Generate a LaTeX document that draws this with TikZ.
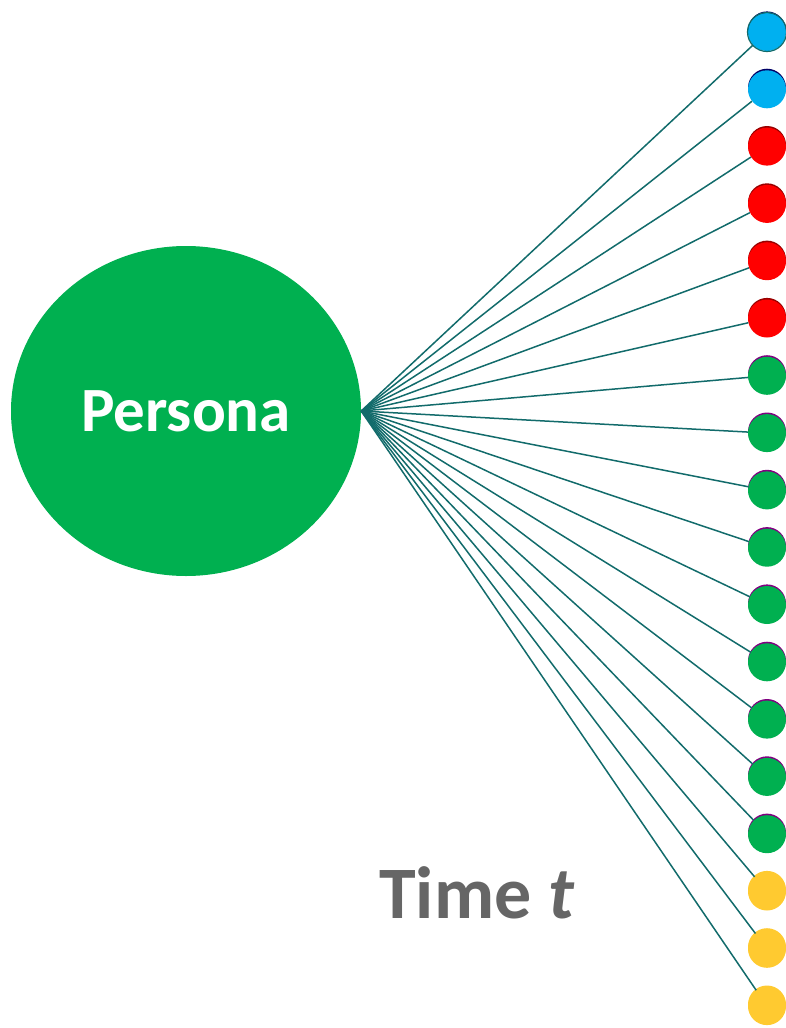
\documentclass[tikz,border=0pt]{standalone}
\usepackage{fontspec}
\setmainfont{Carlito}
\usetikzlibrary{shapes.geometric}

\definecolor{pgreen}{HTML}{00B050}
\definecolor{pblue}{HTML}{00B0F0}
\definecolor{pred}{HTML}{FF0000}
\definecolor{pyellow}{HTML}{FFCA30}
\definecolor{pteal}{HTML}{126B6B}
\definecolor{ptext}{HTML}{666666}

\tikzset{
  persona/.style={ellipse, fill=pgreen, draw=none, inner sep=0pt,
    minimum width=350pt, minimum height=330pt,
    text=white, font=\bfseries\fontsize{63}{70}\selectfont},
  dot/.style={circle, draw=none, inner sep=0pt, minimum size=38pt},
  link/.style={draw=pteal, line width=1.5pt}
}

\begin{document}
\begin{tikzpicture}[x=1pt, y=-1pt]

  % page: 786 x 1028, y grows downwards
  \useasboundingbox (0,0) rectangle (786,1028);

  % ---- (1) the persona ----
  \node[persona] (persona) at (186,411) {Persona};

  % ---- (2) the 18 attribute dots, right edge, cut by the page ----
  % blue 1-2, red 3-6, green 7-15, yellow 16-18
  \foreach \i/\c/\e in {1/pblue/blue!40!black, 2/pblue/blue!40!black,
      3/pred/red!60!black, 4/pred/red!60!black, 5/pred/red!60!black,
      6/pred/red!60!black,
      7/pgreen/violet, 8/pgreen/violet, 9/pgreen/violet, 10/pgreen/violet,
      11/pgreen/violet, 12/pgreen/violet, 13/pgreen/violet, 14/pgreen/violet,
      15/pgreen/violet,
      16/pyellow/pyellow, 17/pyellow/pyellow, 18/pyellow/pyellow} {
    % thin shifted rim behind each dot
    \fill[\e] (767,{32+57.3*(\i-1)-1.6}) circle (19pt);
    \node[dot, fill=\c] (dot\i) at (767,{32+57.3*(\i-1)}) {};
  }
  \draw[pteal, line width=1.2pt] (dot1) circle (19.5pt);

  % ---- (3) one link per dot ----
  \foreach \i in {1,...,18} {
    \draw[link] (persona.east) -- (dot\i);
  }

  % ---- (4) caption ----
  \node[text=ptext, font=\bfseries\fontsize{74}{80}\selectfont,
    anchor=base] (time) at (477,918) {Time \textit{t}};

\end{tikzpicture}
\end{document}
